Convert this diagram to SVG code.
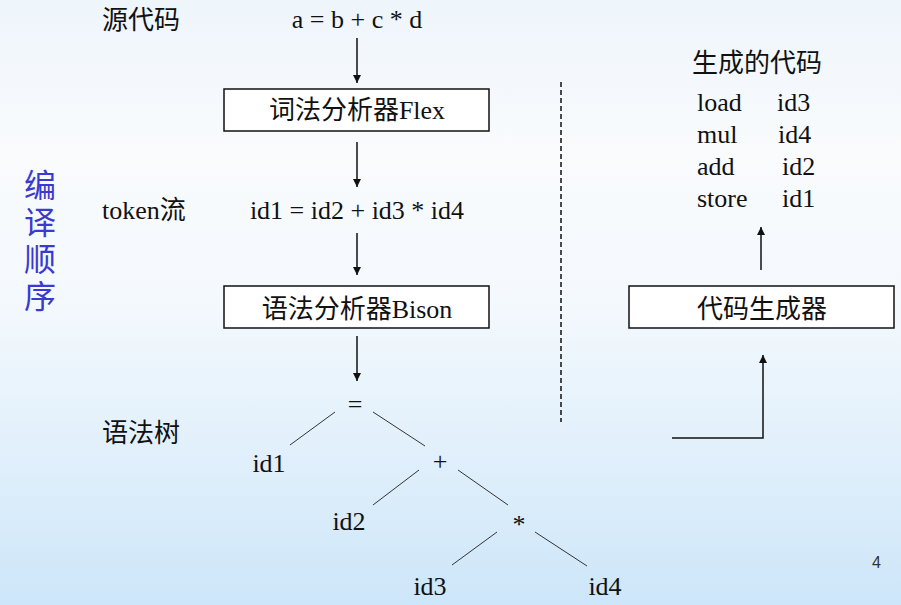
<svg xmlns="http://www.w3.org/2000/svg" width="901" height="605" viewBox="0 0 901 605">
<style>
  .t { font-family: "Liberation Serif", "Times New Roman", "Noto Sans CJK SC", serif; font-size: 26px; fill: #111; }
  .c { text-anchor: middle; }
  .box { fill: #fff; stroke: #111; stroke-width: 1.5; }
  .arr { stroke: #111; stroke-width: 1.5; fill: none; marker-end: url(#ah); }
  .tree { stroke: #333; stroke-width: 1; fill: none; }
  .side { font-family: "Noto Sans CJK SC", sans-serif; font-size: 32px; fill: #3a3ad0; writing-mode: vertical-rl; letter-spacing: 5px; }
</style>
<defs>
  <linearGradient id="bg" x1="0" y1="0" x2="0" y2="1">
    <stop offset="0" stop-color="#eef5fb"/>
    <stop offset="0.25" stop-color="#f9fbfd"/>
    <stop offset="0.5" stop-color="#f4f9fd"/>
    <stop offset="1" stop-color="#cde6f9"/>
  </linearGradient>
  <marker id="ah" viewBox="0 0 10 10" refX="10" refY="5" markerWidth="8" markerHeight="9" markerUnits="userSpaceOnUse" orient="auto">
    <path d="M0,0 L10,5 L0,10 Z" fill="#111"/>
  </marker>
</defs>
<rect x="0" y="0" width="901" height="605" fill="url(#bg)"/>

<g id="side-title">
  <text class="side" x="40" y="169">编译顺序</text>
</g>

<g id="labels">
  <text class="t" x="102" y="29">源代码</text>
  <text class="t" x="102" y="219">token流</text>
  <text class="t" x="102" y="442">语法树</text>
</g>

<g id="source"><text class="t c" x="357" y="28">a = b + c * d</text></g>
<g id="lexer">
  <rect class="box" x="224" y="89" width="265" height="42"/>
  <text class="t c" x="357" y="119">词法分析器Flex</text>
</g>
<g id="tokens"><text class="t c" x="357" y="219">id1 = id2 + id3 * id4</text></g>
<g id="parser">
  <rect class="box" x="224" y="286" width="265" height="42"/>
  <text class="t c" x="357" y="318">语法分析器Bison</text>
</g>

<g id="tree-nodes">
  <text class="t c" x="355" y="413">=</text>
  <text class="t c" x="269" y="472">id1</text>
  <text class="t c" x="440" y="470">+</text>
  <text class="t c" x="349" y="530">id2</text>
  <text class="t c" x="519" y="533">*</text>
  <text class="t c" x="430" y="595">id3</text>
  <text class="t c" x="605" y="595">id4</text>
</g>

<g id="codegen">
  <rect class="box" x="629" y="286" width="265" height="42"/>
  <text class="t c" x="762" y="318">代码生成器</text>
</g>

<g id="generated">
  <text class="t" x="692" y="72">生成的代码</text>
  <text class="t" x="697" y="111">load</text><text class="t" x="777" y="111">id3</text>
  <text class="t" x="697" y="143">mul</text><text class="t" x="778" y="143">id4</text>
  <text class="t" x="697" y="175">add</text><text class="t" x="782" y="175">id2</text>
  <text class="t" x="697" y="207">store</text><text class="t" x="782" y="207">id1</text>
</g>

<g id="connectors">
  <line class="arr" x1="357" y1="38" x2="357" y2="83"/>
  <line class="arr" x1="357" y1="142" x2="357" y2="187"/>
  <line class="arr" x1="357" y1="233" x2="357" y2="275"/>
  <line class="arr" x1="357" y1="336" x2="357" y2="381"/>
  <line class="arr" x1="761" y1="270" x2="761" y2="227"/>
  <polyline class="arr" points="672,438 763,438 763,355"/>
  <line x1="561" y1="82" x2="561" y2="422" stroke="#111" stroke-width="1.5" stroke-dasharray="5,3"/>
  <line class="tree" x1="335" y1="412" x2="290" y2="445"/>
  <line class="tree" x1="373" y1="412" x2="425" y2="446"/>
  <line class="tree" x1="419" y1="470" x2="373" y2="505"/>
  <line class="tree" x1="458" y1="470" x2="508" y2="505"/>
  <line class="tree" x1="497" y1="532" x2="452" y2="565"/>
  <line class="tree" x1="535" y1="532" x2="587" y2="566"/>
</g>

<text x="872" y="568" font-family="Liberation Sans, sans-serif" font-size="16" fill="#333">4</text>
</svg>
